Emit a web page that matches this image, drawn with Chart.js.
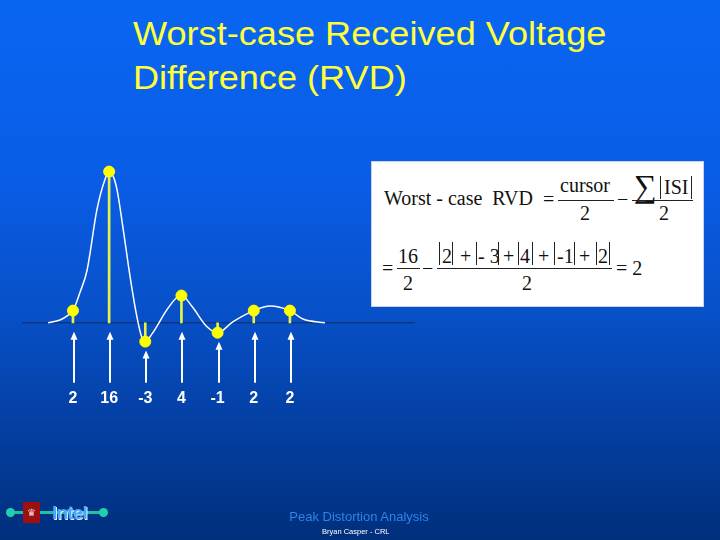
<!DOCTYPE html>
<html>
<head>
<meta charset="utf-8">
<script src="https://cdn.jsdelivr.net/npm/chart.js@4.4.1/dist/chart.umd.min.js"></script>
<style>
  html, body { margin: 0; padding: 0; }
  body {
    width: 720px; height: 540px; position: relative; overflow: hidden;
    background: linear-gradient(#0966f2 0%, #0a5ce4 35%, #0750c8 58%, #0440a4 78%, #002f7c 100%);
    font-family: Arial, "Liberation Sans", sans-serif;
  }
  #chartCanvas { position: absolute; left: 0; top: 0; }
  .title { position: absolute; left: 133px; color: #ffff3c; font-size: 33px; line-height: 33px; white-space: nowrap;
    transform: scaleX(1.095); transform-origin: 0 0; }
  #formula { position: absolute; left: 372px; top: 162px; width: 331px; height: 144px; background: #fff;
    box-shadow: 0 0 0 1px #c8d4ea; font-family: "Liberation Serif", "Times New Roman", serif; color: #111; }
  #formula .t { position: absolute; font-size: 20px; line-height: 20px; white-space: nowrap; }
  #formula .bar { position: absolute; height: 1px; background: #222; }
  #formula .vb { position: absolute; width: 1px; background: #222; }
  .foot1 { position: absolute; left: 0; width: 718px; top: 509px; text-align: center; color: #2f82e6; font-size: 13px; line-height: 16px; }
  .foot2 { position: absolute; left: 322px; top: 527px; color: #fff; font-size: 7.5px; line-height: 9px; }
  #logo { position: absolute; left: 6px; top: 500px; width: 102px; height: 28px; }
  #logo .line { position: absolute; left: 4px; top: 11px; width: 94px; height: 3px; background: #1fc0a4; }
  #logo .dot { position: absolute; top: 8px; width: 9px; height: 9px; border-radius: 50%; background: #22cfae; }
  #logo .red { position: absolute; left: 17px; top: 2px; width: 17px; height: 21px; background: #9c1010; color: #f3d6d6; font-size: 10px; text-align: center; line-height: 21px; }
  #logo .intel { position: absolute; left: 46px; top: 1px; color: #4aa6ff; font-weight: bold; font-size: 19px; line-height: 24px; letter-spacing: -0.8px; text-shadow: 1px 1px 0 #e0f0ff; }
</style>
</head>
<body>
<div class="title" style="top:17px">Worst-case Received Voltage</div>
<div class="title" style="top:61px">Difference (RVD)</div>

<div id="formula">
  <div class="t" style="left:12px; top:26px">Worst - case&nbsp; RVD</div>
  <div class="t" style="left:171px; top:27px">=</div>
  <div class="t" style="left:188px; top:13px">cursor</div>
  <div class="bar" style="left:186px; top:38px; width:56px"></div>
  <div class="t" style="left:208px; top:41px">2</div>
  <div class="t" style="left:245px; top:27px">&minus;</div>
  <div class="t" style="left:262px; top:8px; font-size:32px; line-height:32px">&sum;</div>
  <div class="vb" style="left:288px; top:14px; height:23px"></div>
  <div class="t" style="left:292px; top:15px">ISI</div>
  <div class="vb" style="left:319px; top:14px; height:23px"></div>
  <div class="bar" style="left:260px; top:38px; width:61px"></div>
  <div class="t" style="left:287px; top:41px">2</div>

  <div class="t" style="left:10px; top:96px">=</div>
  <div class="t" style="left:26px; top:84px">16</div>
  <div class="bar" style="left:25px; top:106px; width:23px"></div>
  <div class="t" style="left:31px; top:111px">2</div>
  <div class="t" style="left:50px; top:96px">&minus;</div>

  <div class="vb" style="left:67px; top:80px; height:23px"></div>
  <div class="t" style="left:70px; top:84px">2</div>
  <div class="vb" style="left:80px; top:80px; height:23px"></div>
  <div class="t" style="left:88px; top:84px">+</div>
  <div class="vb" style="left:104px; top:80px; height:23px"></div>
  <div class="t" style="left:106px; top:84px">- 3</div>
  <div class="vb" style="left:126px; top:80px; height:23px"></div>
  <div class="t" style="left:131px; top:84px">+</div>
  <div class="vb" style="left:146px; top:80px; height:23px"></div>
  <div class="t" style="left:148px; top:84px">4</div>
  <div class="vb" style="left:160px; top:80px; height:23px"></div>
  <div class="t" style="left:166px; top:84px">+</div>
  <div class="vb" style="left:182px; top:80px; height:23px"></div>
  <div class="t" style="left:185px; top:84px">-1</div>
  <div class="vb" style="left:202px; top:80px; height:23px"></div>
  <div class="t" style="left:207px; top:84px">+</div>
  <div class="vb" style="left:224px; top:80px; height:23px"></div>
  <div class="t" style="left:226px; top:84px">2</div>
  <div class="vb" style="left:237px; top:80px; height:23px"></div>

  <div class="bar" style="left:65px; top:106px; width:175px"></div>
  <div class="t" style="left:150px; top:111px">2</div>
  <div class="t" style="left:244px; top:96px">= 2</div>
</div>

<canvas id="chartCanvas" width="720" height="540"></canvas>

<div id="logo">
  <div class="line"></div>
  <div class="dot" style="left:0px"></div>
  <div class="dot" style="left:93px"></div>
  <div class="red">&#9819;</div>
  <div class="intel">Intel</div>
</div>
<div class="foot1">Peak Distortion Analysis</div>
<div class="foot2">Bryan Casper - CRL</div>

<script>
// tap labels shown under the arrows
const tapLabels = ['2', '16', '-3', '4', '-1', '2', '2'];
// sample positions (UI) and the drawn heights of the yellow dots
const sampleX = [0, 1, 2, 3, 4, 5, 6];
const sampleY = [1.3, 16.1, -2.0, 2.9, -1.05, 1.3, 1.3];
// pulse response curve
const pulseX = [-0.69, -0.36, -0.14, 0, 0.19, 0.39, 0.66, 0.88, 1, 1.2, 1.38, 1.58, 1.77, 1.9, 2, 2.2, 2.6, 2.87, 3, 3.3, 3.7, 4, 4.42, 5, 5.45, 6, 6.36, 6.97];
const pulseY = [0, 0.3, 0.8, 1.3, 3.2, 5.6, 12, 15.2, 16.1, 14.5, 10.2, 4.9, 0.6, -1.5, -2.0, -1.1, 1.4, 2.7, 2.9, 1.7, -0.4, -1.05, 0.1, 1.3, 1.8, 1.3, 0.4, 0];

const xMin = -1.41, xMax = 9.46;

const arrows = {
  id: 'arrows',
  afterDatasetsDraw(chart) {
    const { ctx, chartArea, scales: { x, y } } = chart;
    ctx.save();
    ctx.strokeStyle = '#fff';
    ctx.fillStyle = '#fff';
    ctx.lineWidth = 2;
    sampleX.forEach((v, i) => {
      const px = Math.round(x.getPixelForValue(v)) + 1;
      const tip = y.getPixelForValue(Math.min(0, sampleY[i])) + 9;
      ctx.beginPath();
      ctx.moveTo(px, chartArea.bottom - 2);
      ctx.lineTo(px, tip + 6);
      ctx.stroke();
      ctx.beginPath();
      ctx.moveTo(px, tip);
      ctx.lineTo(px - 3.5, tip + 8);
      ctx.lineTo(px + 3.5, tip + 8);
      ctx.closePath();
      ctx.fill();
    });
    ctx.restore();
  }
};

const ctx = document.getElementById('chartCanvas').getContext('2d');
let chart = new Chart(ctx, {
  data: {
    datasets: [
      {
        type: 'line',
        data: [{ x: xMin, y: 0 }, { x: xMax, y: 0 }],
        borderColor: '#13295c',
        borderWidth: 1,
        pointRadius: 0,
        order: 4
      },
      {
        type: 'bar',
        data: sampleX.map((v, i) => ({ x: v, y: sampleY[i] })),
        backgroundColor: '#e4f24a',
        barThickness: 2,
        order: 3
      },
      {
        type: 'line',
        data: pulseX.map((v, i) => ({ x: v, y: pulseY[i] })),
        borderColor: '#ffffff',
        borderWidth: 1.5,
        pointRadius: 0,
        cubicInterpolationMode: 'monotone',
        order: 2
      },
      {
        type: 'line',
        data: sampleX.map((v, i) => ({ x: v, y: sampleY[i] })),
        showLine: false,
        pointRadius: 5.5,
        pointBackgroundColor: '#ffff00',
        pointBorderColor: '#ffff00',
        order: 1
      }
    ]
  },
  options: {
    responsive: false,
    animation: false,
    devicePixelRatio: 1,
    layout: { padding: { left: 22, right: 305, top: 150, bottom: 128 } },
    plugins: { legend: { display: false }, tooltip: { enabled: false } },
    scales: {
      x: {
        type: 'linear',
        offset: false,
        min: xMin,
        max: xMax,
        grid: { display: false, drawTicks: false, offset: false },
        border: { display: false },
        afterBuildTicks: (scale) => { scale.ticks = sampleX.map(v => ({ value: v })); },
        ticks: {
          color: '#ffffff',
          padding: 4,
          font: { family: 'Arial', size: 16, weight: 'bold' },
          callback: (v) => tapLabels[sampleX.indexOf(v)]
        }
      },
      y: {
        type: 'linear',
        display: false,
        min: -6.6,
        max: 18.4
      }
    }
  },
  plugins: [arrows]
});
</script>
</body>
</html>
